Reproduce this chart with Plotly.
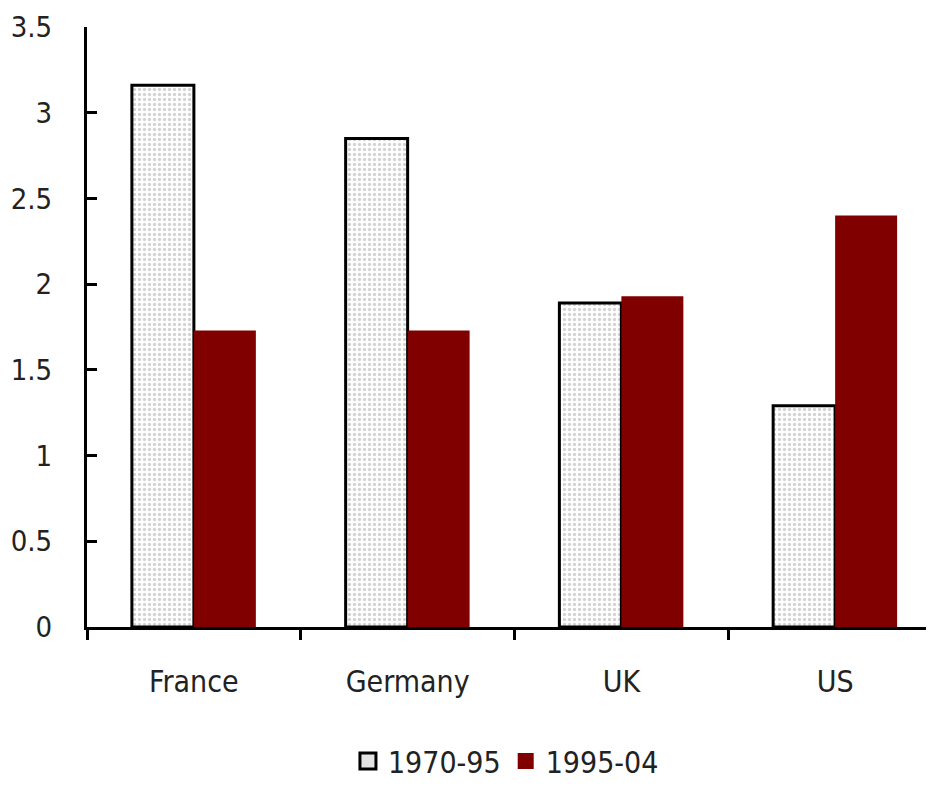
import plotly.graph_objects as go

categories = ["France", "Germany", "UK", "US"]
series_1970_95 = [3.16, 2.85, 1.89, 1.29]
series_1995_04 = [1.73, 1.73, 1.93, 2.40]
series_names = ["1970-95", "1995-04"]
y_ticks = [0, 0.5, 1, 1.5, 2, 2.5, 3, 3.5]
y_tick_labels = ["0", "0.5", "1", "1.5", "2", "2.5", "3", "3.5"]

font_family = "DejaVu Sans Condensed, DejaVu Sans, sans-serif"

fig = go.Figure()
fig.add_trace(go.Bar(
    x=categories, y=series_1970_95, name=series_names[0], showlegend=False,
    marker=dict(color="white",
                line=dict(color="black", width=3),
                pattern=dict(shape=".", fgcolor="#a8a8a8", bgcolor="white",
                             size=5, solidity=0.35)),
))
fig.add_trace(go.Bar(
    x=categories, y=series_1995_04, name=series_names[1], showlegend=False,
    marker=dict(color="#800000", line=dict(width=0)),
))
# legend-only entries with larger swatches
fig.add_trace(go.Scatter(
    x=[None], y=[None], mode="markers", name=series_names[0],
    marker=dict(symbol="square", size=20, color="#e4e4e4",
                line=dict(color="black", width=3)),
))
fig.add_trace(go.Scatter(
    x=[None], y=[None], mode="markers", name=series_names[1],
    marker=dict(symbol="square", size=22, color="#800000",
                line=dict(width=0)),
))

fig.update_layout(
    width=934, height=789,
    paper_bgcolor="white", plot_bgcolor="white",
    margin=dict(l=79, r=0, t=19, b=170),
    barmode="group", bargap=0.42, bargroupgap=0,
    font=dict(family=font_family, size=29, color="#222222"),
    showlegend=True,
    legend=dict(orientation="h", x=0.49, xanchor="center", y=-0.18, yanchor="top",
                font=dict(size=30), itemwidth=30, itemsizing="trace",
                traceorder="normal", tracegroupgap=0),
)
fig.update_xaxes(
    range=[-0.5, 3.5], showline=True, linecolor="black", linewidth=3,
    ticks="outside", tickson="boundaries", ticklen=10, tickwidth=3, tickcolor="black",
    showgrid=False, zeroline=False, tickfont=dict(size=30), ticklabelstandoff=26,
)
fig.update_yaxes(
    range=[0, 3.5], tickvals=y_ticks, ticktext=y_tick_labels,
    showline=True, linecolor="black", linewidth=3,
    ticks="inside", ticklen=10, tickwidth=3, tickcolor="black",
    showgrid=False, zeroline=False, tickfont=dict(size=29), ticklabelstandoff=26,
)

fig.write_html("out.html")
